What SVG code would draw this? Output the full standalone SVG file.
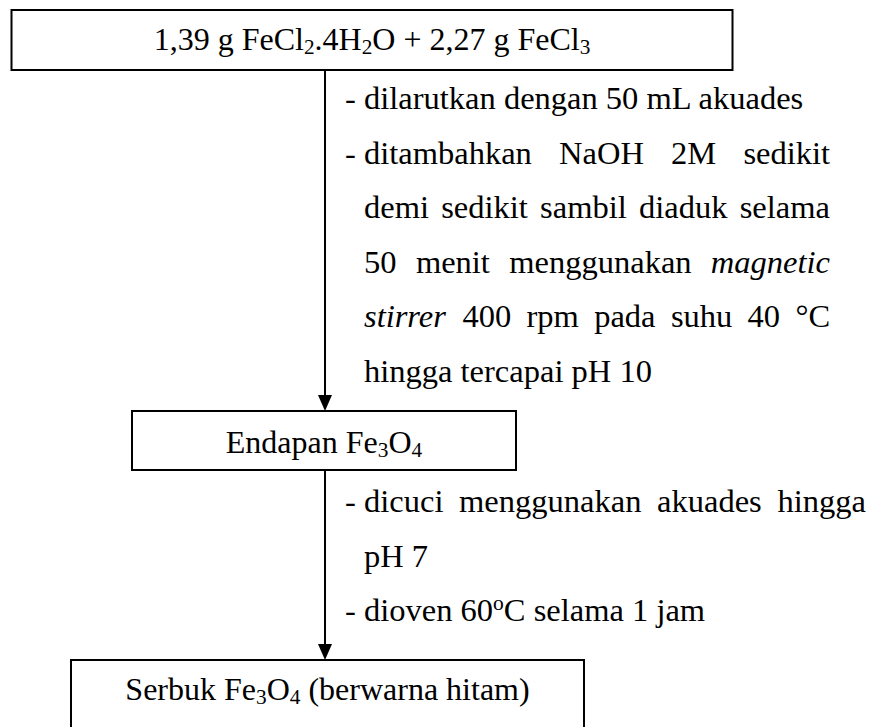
<svg xmlns="http://www.w3.org/2000/svg" width="873" height="727" viewBox="0 0 873 727">
<style>
.t{font-family:"Liberation Serif","Times New Roman",serif;font-size:32.5px;fill:#000}
.b{font-size:32px}
.c{text-anchor:middle}
.e{text-anchor:end}
.i{font-style:italic}
.sub{font-size:21.3px}
.sup{font-size:21.5px}
.box{fill:#fff;stroke:#000;stroke-width:2}
.conn{fill:none;stroke:#000;stroke-width:2}
</style>
<defs>
<marker id="arr" markerUnits="userSpaceOnUse" markerWidth="18" markerHeight="16" refX="10" refY="7" orient="auto">
<path d="M0,0 L16,7 L0,14 z" fill="#000"/>
</marker>
</defs>
<rect width="873" height="727" fill="#fff"/>
<g id="connectors">
<line class="conn" x1="325" y1="70" x2="325" y2="405" marker-end="url(#arr)"/>
<line class="conn" x1="325" y1="470" x2="325" y2="654" marker-end="url(#arr)"/>
</g>
<g id="node-start">
<rect class="box" x="11.5" y="10" width="721" height="60"/>
<text class="t b c" x="372" y="50">1,39 g FeCl<tspan class="sub" dy="4">2</tspan><tspan dy="-4">.4H</tspan><tspan class="sub" dy="4">2</tspan><tspan dy="-4">O + 2,27 g FeCl</tspan><tspan class="sub" dy="4">3</tspan></text>
</g>
<g id="step1-label">
<text class="t" y="109"><tspan x="345">-</tspan><tspan x="364">dilarutkan dengan 50 mL akuades</tspan></text>
<text class="t" y="163.5"><tspan x="345">-</tspan><tspan x="364">ditambahkan</tspan><tspan x="559.1">NaOH</tspan><tspan x="671.1">2M</tspan><tspan x="743.4">sedikit</tspan></text>
<text class="t" y="218"><tspan x="364">demi</tspan><tspan x="441.2">sedikit</tspan><tspan x="540.1">sambil</tspan><tspan x="639">diaduk</tspan><tspan x="739.7">selama</tspan></text>
<text class="t" y="272.5"><tspan x="364">50</tspan><tspan x="415.9">menit</tspan><tspan x="509.3">menggunakan</tspan></text>
<text class="t i e" x="830" y="272.5">magnetic</text>
<text class="t" y="327"><tspan x="364" class="i">stirrer</tspan><tspan x="462.4">400</tspan><tspan x="526.5">rpm</tspan><tspan x="594.2">pada</tspan><tspan x="670.9">suhu</tspan><tspan x="747.6">40</tspan><tspan x="795.4">°C</tspan></text>
<text class="t" x="364" y="381.5">hingga tercapai pH 10</text>
</g>
<g id="node-endapan">
<rect class="box" x="132" y="411" width="384" height="59"/>
<text class="t b c" x="324" y="453">Endapan Fe<tspan class="sub" dy="4">3</tspan><tspan dy="-4">O</tspan><tspan class="sub" dy="4">4</tspan></text>
</g>
<g id="step2-label">
<text class="t" y="512"><tspan x="345">-</tspan><tspan x="364">dicuci</tspan><tspan x="459.1">menggunakan</tspan><tspan x="657.1">akuades</tspan><tspan x="777.5">hingga</tspan></text>
<text class="t" x="364" y="566.5">pH 7</text>
<text class="t" y="621"><tspan x="345">-</tspan><tspan x="364">dioven 60</tspan><tspan class="sup" dy="-11">o</tspan><tspan dy="11">C selama 1 jam</tspan></text>
</g>
<g id="node-serbuk">
<rect class="box" x="71" y="660" width="513" height="90"/>
<text class="t b c" x="327.5" y="700">Serbuk Fe<tspan class="sub" dy="4">3</tspan><tspan dy="-4">O</tspan><tspan class="sub" dy="4">4</tspan><tspan dy="-4"> (berwarna hitam)</tspan></text>
</g>
</svg>
